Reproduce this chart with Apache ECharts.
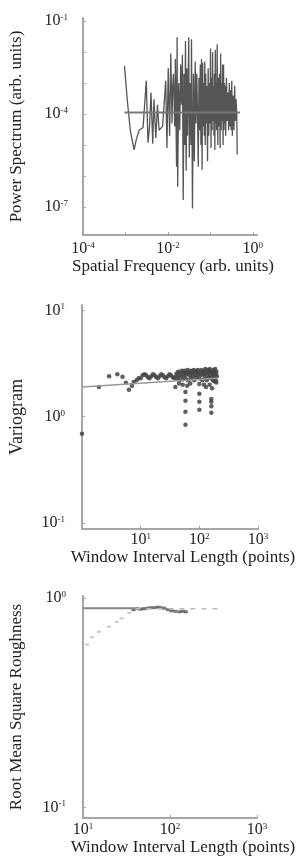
<!DOCTYPE html>
<html>
<head>
<meta charset="utf-8">
<script src="https://cdn.jsdelivr.net/npm/echarts@6/dist/echarts.min.js"></script>
<style>
  html, body { margin: 0; padding: 0; background: #fff; }
  #chart { width: 299px; height: 859px; }
</style>
</head>
<body>
<div id="chart"></div>
<script>
// power spectrum (panel 1)
const psFreq = [0.00095, 0.0011, 0.0013, 0.0016, 0.0018, 0.0021, 0.0026, 0.0031, 0.0034, 0.0037,
  0.0040, 0.0044, 0.0047, 0.0052, 0.0057, 0.0062, 0.0075, 0.0089, 0.0095, 0.0102,
  0.011, 0.0117, 0.0125, 0.013, 0.0135, 0.0145, 0.015, 0.016, 0.0165, 0.017,
  0.018, 0.019, 0.020, 0.021, 0.022, 0.023, 0.024, 0.025, 0.026, 0.027,
  0.028, 0.029, 0.031, 0.032, 0.033, 0.035, 0.036, 0.038, 0.040, 0.042,
  0.044, 0.046, 0.048, 0.050, 0.052, 0.054, 0.056, 0.058, 0.060, 0.062,
  0.064, 0.066, 0.068, 0.070, 0.072, 0.074, 0.076, 0.078, 0.080, 0.083,
  0.086, 0.089, 0.092, 0.095, 0.098, 0.101, 0.104, 0.107, 0.110, 0.113,
  0.116, 0.119, 0.122, 0.125, 0.128, 0.131, 0.134, 0.137, 0.140, 0.145,
  0.150, 0.155, 0.160, 0.165, 0.170, 0.175, 0.180, 0.185, 0.190, 0.195,
  0.200, 0.205, 0.210, 0.215, 0.220, 0.225, 0.230, 0.240, 0.250, 0.260,
  0.270, 0.280, 0.290, 0.300, 0.310, 0.320, 0.330, 0.345, 0.360, 0.375,
  0.390, 0.405, 0.420, 0.430];
const psPower = [3.6e-3, 3e-4, 3e-5, 7e-6, 1.5e-5, 3e-5, 3.7e-5, 1.2e-3, 1.2e-5, 4e-5,
  5e-4, 1.1e-5, 3e-4, 1.7e-5, 2e-4, 3e-5, 4e-5, 1.2e-3, 8e-6, 3e-3,
  2e-5, 9e-3, 5e-5, 8e-4, 2e-3, 4e-5, 6e-3, 2e-6, 3e-2, 4.5e-7,
  1e-3, 3e-5, 4e-3, 2e-4, 8e-3, 1.7e-7, 2e-3, 1e-5, 2.3e-2, 1.5e-6,
  3e-3, 2e-5, 3e-2, 4e-6, 1e-3, 1e-5, 2.6e-2, 9e-8, 2e-3, 3e-6,
  5e-3, 5e-5, 2e-3, 1e-4, 2e-6, 1.5e-3, 3e-5, 4e-3, 1e-5, 6e-3,
  1.6e-6, 4.5e-3, 4e-5, 1e-3, 2e-5, 5e-3, 1e-5, 2e-3, 5e-5, 8e-4,
  3e-6, 3e-3, 2e-5, 1e-3, 5e-5, 1.3e-2, 8e-6, 1.5e-3, 3e-5, 1e-2,
  6e-5, 8e-4, 2e-5, 2e-3, 7e-6, 1.2e-2, 5e-5, 1e-3, 3e-5, 1.8e-2,
  1e-5, 1.5e-3, 4e-5, 2e-3, 8e-6, 9e-3, 3e-5, 1e-3, 6e-5, 4e-3,
  1e-5, 4e-3, 3e-5, 1e-3, 5e-5, 8e-4, 2e-5, 1.5e-3, 6e-5, 5e-4,
  3e-5, 1e-3, 4e-5, 6e-4, 3e-5, 1.2e-3, 2e-5, 4e-4, 3e-5, 8e-4,
  6e-5, 3e-4, 1e-4, 5e-6];
const psFitFreq = [0.00095, 0.5];
const psFitPower = [1.12e-4, 1.12e-4];

// variogram (panel 2)
const varioLag = [1, 1.94, 2.9, 4.0, 4.9, 5.6, 6.3, 7.1, 7.6, 8.5, 9.2,
  10, 10.8, 11.6, 12.4, 13.3, 14.2, 15.2, 16.2, 17.3, 18.5, 19.7, 21, 22.4, 23.9, 25.5, 27.2, 29, 31, 33, 35.2, 37.5, 40,
  41, 42, 43.5, 45, 46, 47.5, 49, 50, 52, 53, 55, 56, 58, 59, 61, 63, 64, 66, 68, 70, 72, 74, 76, 78, 80, 82, 84, 86, 88,
  91, 93, 95, 98, 100, 103, 106, 109, 112, 115, 118, 121, 124, 127, 130, 133, 136, 139, 142, 145, 148, 151, 155, 159,
  163, 167, 171, 175, 179, 183, 187, 191, 195, 199, 190, 180, 170,
  45, 39, 52, 62, 70, 120, 130, 150, 165, 195,
  58, 58, 58, 58, 100, 100, 100, 100, 160, 160, 160, 160];
const varioVal = [0.69, 1.9, 2.4, 2.5, 2.37, 2.08, 1.79, 1.95, 2.12, 2.2, 2.3,
  2.3, 2.45, 2.5, 2.45, 2.35, 2.3, 2.4, 2.5, 2.45, 2.35, 2.3, 2.4, 2.5, 2.45, 2.35, 2.3, 2.4, 2.5, 2.45, 2.35, 2.3, 2.4,
  2.55, 2.3, 2.65, 2.45, 2.2, 2.6, 2.4, 2.7, 2.25, 2.55, 2.45, 2.7, 2.3, 2.6, 2.5, 2.75, 2.2, 2.6, 2.45, 2.7, 2.3, 2.55, 2.65, 2.4, 2.75, 2.2, 2.6, 2.45, 2.7,
  2.35, 2.6, 2.75, 2.5, 2.3, 2.65, 2.45, 2.75, 2.2, 2.6, 2.5, 2.7, 2.35, 2.8, 2.55, 2.2, 2.65, 2.45, 2.75, 2.3, 2.6, 2.8, 2.45, 2.7,
  2.3, 2.65, 2.5, 2.75, 2.4, 2.6, 2.8, 2.5, 2.65, 2.4, 2.2, 2.15, 2.2,
  2.05, 1.9, 2.0, 1.95, 2.05, 2.0, 1.9, 2.0, 1.85, 2.1,
  1.71, 1.41, 1.11, 0.84, 2.03, 1.64, 1.38, 1.16, 1.47, 1.38, 1.09, 1.25];
const varioFitLag = [1, 200];
const varioFitVal = [1.9, 2.3];

// rms roughness (panel 3)
const rmsLagLight = [11.1, 12.6, 15.2, 19.8, 24.4, 27.8, 34];
const rmsValLight = [0.60, 0.65, 0.69, 0.73, 0.77, 0.80, 0.85];
const rmsLagDark = [38, 42, 46, 50, 55, 60, 66, 72, 78, 86, 95, 104, 115, 128, 140, 152];
const rmsValDark = [0.88, 0.89, 0.885, 0.89, 0.895, 0.9, 0.9, 0.905, 0.9, 0.895, 0.88, 0.87, 0.865, 0.86, 0.865, 0.86];
const rmsFitLag = [10, 40];
const rmsFitVal = [0.895, 0.895];
const rmsTailLag = [40, 350];
const rmsTailVal = [0.89, 0.89];

const zip = (xs, ys) => xs.map((x, i) => [x, ys[i]]);

const serif = "'Liberation Serif', 'DejaVu Serif', serif";
const axisGray = '#a6a6a6';

function powLabel(v) {
  const e = Math.round(Math.log10(v));
  return '{b|10}{s|' + e + '}';
}
const richPow = {
  b: { fontSize: 16, fontFamily: serif, color: '#222' },
  s: { fontSize: 9, fontFamily: serif, color: '#222', verticalAlign: 'top' }
};

function decades(a, b) {
  const out = [];
  for (let e = a; e <= b; e++) out.push(Math.pow(10, e));
  return out;
}

function xAxisOf(gridIndex, min, max, labels, ticks, name, nameGap, margin, shift) {
  return {
    type: 'log', gridIndex, min, max,
    name, nameLocation: 'middle', nameGap,
    nameTextStyle: { fontFamily: serif, fontSize: 17, color: '#222', padding: [0, 0, 0, shift] },
    axisLine: { lineStyle: { color: axisGray, width: 2 } },
    axisTick: { customValues: ticks, length: 3, inside: true, lineStyle: { color: axisGray } },
    axisLabel: { customValues: labels, margin, formatter: powLabel, rich: richPow },
    splitLine: { show: false }
  };
}
function yAxisOf(gridIndex, min, max, labels, ticks, name, nameGap, margin, nameSize) {
  return {
    type: 'log', gridIndex, min, max,
    name, nameLocation: 'middle', nameGap, nameRotate: 90,
    nameTextStyle: { fontFamily: serif, fontSize: nameSize, color: '#222' },
    axisLine: { lineStyle: { color: axisGray, width: 2 } },
    axisTick: { customValues: ticks, length: 3, inside: true, lineStyle: { color: axisGray } },
    axisLabel: { customValues: labels, margin, formatter: powLabel, rich: richPow },
    splitLine: { show: false }
  };
}

const chart = echarts.init(document.getElementById('chart'), null, { renderer: 'canvas' });

const option = {
  backgroundColor: '#fff',
  animation: false,
  grid: [
    { left: 81, top: 18, width: 176, height: 217 },
    { left: 81, top: 305, width: 177, height: 224 },
    { left: 81, top: 596, width: 176, height: 222 }
  ],
  xAxis: [
    xAxisOf(0, 1e-4, Math.pow(10, 0.1), [1e-4, 1e-2, 1], decades(-4, 0), 'Spatial Frequency (arb. units)', 21, 6, 6),
    xAxisOf(1, 1, 1000, [10, 100, 1000], decades(0, 3), 'Window Interval Length (points)', 16, 3, 26),
    xAxisOf(2, 10, 1000, [10, 100, 1000], decades(1, 3), 'Window Interval Length (points)', 12, 4, 26)
  ],
  yAxis: [
    yAxisOf(0, Math.pow(10, -7.9), Math.pow(10, -0.9), [1e-7, 1e-4, 1e-1], decades(-7, -1), 'Power Spectrum (arb. units)', 58, 15, 17),
    yAxisOf(1, Math.pow(10, -1.056), Math.pow(10, 1.05), [0.1, 1, 10], decades(-1, 1), 'Variogram', 56, 17, 18),
    yAxisOf(2, Math.pow(10, -1.05), Math.pow(10, 0.01), [0.1, 1], decades(-1, 0), 'Root Mean Square Roughness', 58, 17, 17)
  ],
  series: [
    {
      type: 'line', xAxisIndex: 0, yAxisIndex: 0, data: zip(psFreq, psPower),
      symbol: 'none', lineStyle: { color: '#555', width: 1.3 }
    },
    {
      type: 'line', xAxisIndex: 0, yAxisIndex: 0, data: zip(psFitFreq, psFitPower),
      symbol: 'none', lineStyle: { color: '#777', width: 2 }
    },
    {
      type: 'line', xAxisIndex: 1, yAxisIndex: 1, data: zip(varioFitLag, varioFitVal),
      symbol: 'none', lineStyle: { color: '#999', width: 1.5 }
    },
    {
      type: 'scatter', xAxisIndex: 1, yAxisIndex: 1, data: zip(varioLag, varioVal),
      symbolSize: 4.5, itemStyle: { color: '#444', opacity: 0.85 }
    },
    {
      type: 'line', xAxisIndex: 2, yAxisIndex: 2, data: zip(rmsFitLag, rmsFitVal),
      symbol: 'none', lineStyle: { color: '#888', width: 2 }
    },
    {
      type: 'line', xAxisIndex: 2, yAxisIndex: 2, data: zip(rmsTailLag, rmsTailVal),
      symbol: 'none', lineStyle: { color: '#bbb', width: 1.5, type: [5, 6] }
    },
    {
      type: 'scatter', xAxisIndex: 2, yAxisIndex: 2, data: zip(rmsLagLight, rmsValLight),
      symbol: 'rect', symbolSize: [4, 2], itemStyle: { color: '#bbb' }
    },
    {
      type: 'scatter', xAxisIndex: 2, yAxisIndex: 2, data: zip(rmsLagDark, rmsValDark),
      symbol: 'rect', symbolSize: [4, 3], itemStyle: { color: '#555' }
    }
  ]
};

chart.setOption(option);
</script>
</body>
</html>
